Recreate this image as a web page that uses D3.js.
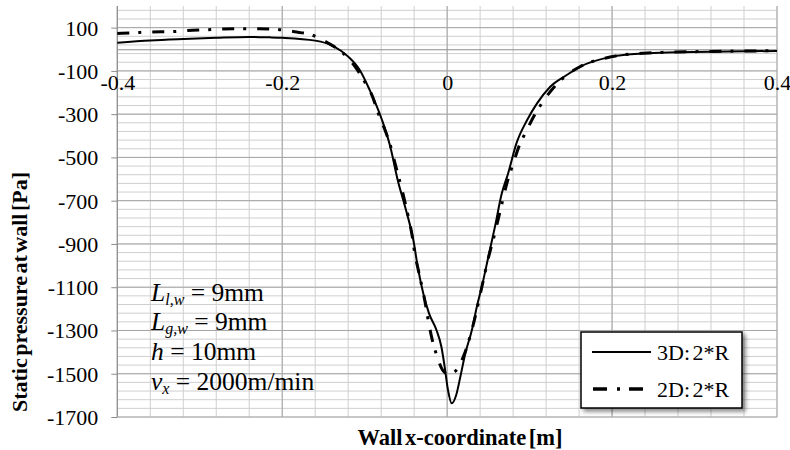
<!DOCTYPE html>
<html>
  <head>
    <meta charset="UTF-8">
    <title>Static pressure at wall</title>
    <script src="https://d3js.org/d3.v7.min.js"></script>
    <style>
      body { margin: 0; background: #fff; }
      text { font-family: "Liberation Serif", "Tinos", "Times New Roman", "DejaVu Serif", serif; fill: #000; }
    </style>
  </head>
  <body>
    <div id="chart-container"></div>
  <script type="text/javascript">

    // Values
    const xTickValues = [-0.4, -0.2, 0, 0.2, 0.4];
    const xTickLabels = ["-0.4", "-0.2", "0", "0.2", "0.4"];
    const yTickValues = [100, -100, -300, -500, -700, -900, -1100, -1300, -1500, -1700];
    const yTickLabels = ["100", "-100", "-300", "-500", "-700", "-900", "-1100", "-1300", "-1500", "-1700"];

    // 3D: 2*R (solid)
    const x3D = [-0.40, -0.36, -0.32, -0.28, -0.24, -0.215, -0.20, -0.16, -0.138, -0.12, -0.106, -0.094,
                 -0.079, -0.069, -0.060, -0.051, -0.041, -0.035, -0.029, -0.022, -0.013, -0.007, -0.003,
                 0.001, 0.0055, 0.011, 0.016, 0.022, 0.030, 0.036, 0.042, 0.050, 0.058, 0.066, 0.074,
                 0.084, 0.097, 0.109, 0.125, 0.145, 0.161, 0.20, 0.238, 0.278, 0.319, 0.40];
    const p3D = [30, 40, 47, 53, 57, 55, 53, 40, 15, -34, -96, -188,
                 -327, -450, -604, -728, -882, -1020, -1128, -1221, -1298, -1375, -1468,
                 -1575, -1637, -1598, -1514, -1406, -1298, -1190, -1098, -959, -820, -670, -573,
                 -435, -327, -250, -173, -119, -81, -34, -19, -14, -11, -8];

    // 2D: 2*R (dash-dot)
    const x2D = [-0.40, -0.378, -0.358, -0.336, -0.314, -0.292, -0.272, -0.249, -0.228, -0.207, -0.185,
                 -0.164, -0.145, -0.127, -0.113, -0.1005, -0.0905, -0.0835, -0.0754, -0.0684, -0.0632,
                 -0.0523, -0.0471, -0.0426, -0.039, -0.035, -0.0268, -0.0228, -0.0187, -0.0127, -0.0056,
                 0.0, 0.006, 0.012, 0.0204, 0.0337, 0.042, 0.050, 0.058, 0.066, 0.073, 0.080, 0.087,
                 0.0956, 0.106, 0.1175, 0.130, 0.145, 0.161, 0.20, 0.238, 0.278, 0.319, 0.40];
    const p2D = [73, 77, 80, 81, 87, 90, 94, 95, 95, 92, 81,
                 66, 30, -16, -73, -147, -219, -296, -373, -450, -527,
                 -688, -774, -859, -950, -1020, -1168, -1256, -1333, -1414, -1483,
                 -1500, -1496, -1480, -1414, -1242, -1100, -965, -848, -720, -612, -530, -450,
                 -381, -304, -235, -173, -119, -81, -34, -18, -13, -10, -7];

    // Annotation rows: symbol, subscript, remainder
    const noteSymbols = ["L", "L", "h", "v"];
    const noteSubs = ["l,w", "g,w", "", "x"];
    const noteRest = [" = 9mm", " = 9mm", " = 10mm", " = 2000m/min"];

    const legendLabels = ["3D: 2*R", "2D: 2*R"];

    const width = 790;
    const height = 450;
    const serif = "Liberation Serif, Tinos, Times New Roman, DejaVu Serif, serif";

    const x = d3.scaleLinear().domain([-0.4, 0.4]).range([117.3, 777]);
    const y = d3.scaleLinear().domain([-1700, 200]).range([417, 6]);

    const svg = d3.select("#chart-container")
        .append("svg")
        .attr("width", width)
        .attr("height", height)
        .attr("viewBox", `0 0 ${width} ${height}`);

    const defs = svg.append("defs");
    defs.append("filter")
        .attr("id", "shadow")
        .attr("x", "-10%").attr("y", "-10%").attr("width", "130%").attr("height", "140%")
      .append("feDropShadow")
        .attr("dx", 3).attr("dy", 3).attr("stdDeviation", 2)
        .attr("flood-color", "#000").attr("flood-opacity", 0.45);

    // Minor gridlines
    const grid = svg.append("g");
    grid.selectAll(".vminor")
        .data(d3.range(-10, 11).map(i => i * 0.04))
        .join("line")
        .attr("x1", d => x(d)).attr("x2", d => x(d))
        .attr("y1", y(200)).attr("y2", y(-1700))
        .attr("stroke", "#cfcfcf").attr("stroke-width", 1);
    grid.selectAll(".hminor")
        .data(d3.range(0, 48).map(i => -1700 + i * 40))
        .join("line")
        .attr("x1", x(-0.4)).attr("x2", x(0.4))
        .attr("y1", d => y(d)).attr("y2", d => y(d))
        .attr("stroke", "#cfcfcf").attr("stroke-width", 1);

    // Major gridlines
    grid.selectAll(".vmajor")
        .data(xTickValues)
        .join("line")
        .attr("x1", d => x(d)).attr("x2", d => x(d))
        .attr("y1", y(200)).attr("y2", y(-1700))
        .attr("stroke", "#a6a6a6").attr("stroke-width", 1);
    grid.selectAll(".hmajor")
        .data(yTickValues)
        .join("line")
        .attr("x1", x(-0.4)).attr("x2", x(0.4))
        .attr("y1", d => y(d)).attr("y2", d => y(d))
        .attr("stroke", "#a6a6a6").attr("stroke-width", 1);

    // Y axis with outside ticks
    const yAxis = g => g
        .attr("transform", `translate(${x(-0.4)},0)`)
        .attr("font-family", serif)
        .call(d3.axisLeft(y).tickValues(yTickValues).tickSize(6).tickFormat((d, i) => yTickLabels[i]))
        .call(g => g.select(".domain").attr("stroke", "#8c8c8c").attr("d", `M0,${y(200)}V${y(-1700)}`))
        .call(g => g.selectAll(".tick line").attr("stroke", "#8c8c8c"))
        .call(g => g.selectAll(".tick text")
            .attr("x", -19)
            .attr("dy", "0.34em")
            .attr("font-size", 22)
            .attr("fill", "#000"));

    // X axis crossing at 0 Pa
    const xAxis = g => g
        .attr("transform", `translate(0,${y(0)})`)
        .attr("font-family", serif)
        .call(d3.axisBottom(x).tickValues(xTickValues).tickSize(0).tickFormat((d, i) => xTickLabels[i]))
        .call(g => g.select(".domain").attr("stroke", "#8c8c8c"))
        .call(g => g.selectAll(".tick text")
            .attr("y", 0)
            .attr("dy", 41)
            .attr("font-size", 22)
            .attr("fill", "#000"));

    svg.append("g").call(yAxis);
    svg.append("g").call(xAxis);

    // Curves
    const line = d3.line()
        .x(d => x(d[0]))
        .y(d => y(d[1]))
        .curve(d3.curveMonotoneX);

    svg.append("path")
        .attr("d", line(d3.zip(x2D, p2D)))
        .attr("fill", "none")
        .attr("stroke", "#000")
        .attr("stroke-width", 3)
        .attr("stroke-dasharray", "12,9,3,11");

    svg.append("path")
        .attr("d", line(d3.zip(x3D, p3D)))
        .attr("fill", "none")
        .attr("stroke", "#000")
        .attr("stroke-width", 2);

    // Axis titles
    svg.append("text")
        .attr("x", 460)
        .attr("y", 445)
        .attr("text-anchor", "middle")
        .attr("font-size", 22.5)
        .attr("font-weight", "bold")
        .attr("word-spacing", -3)
        .text("Wall x-coordinate [m]");

    svg.append("text")
        .attr("transform", "translate(27,292) rotate(-90)")
        .attr("text-anchor", "middle")
        .attr("font-size", 22)
        .attr("font-weight", "bold")
        .attr("word-spacing", -3)
        .text("Static pressure at wall [Pa]");

    // Annotation block: symbol, subscript and remainder as separate texts
    const noteG = svg.append("g");
    noteSymbols.forEach((s, i) => {
        const base = 300.5 + i * 29.8;
        const sym = noteG.append("text")
            .attr("x", 151).attr("y", base)
            .attr("font-size", 25.5).attr("font-style", "italic")
            .text(s);
        let cx = 151 + sym.node().getComputedTextLength();
        if (noteSubs[i]) {
            const sub = noteG.append("text")
                .attr("x", cx).attr("y", base + 4)
                .attr("font-size", 16).attr("font-style", "italic")
                .text(noteSubs[i]);
            cx += sub.node().getComputedTextLength();
        }
        noteG.append("text")
            .attr("x", cx).attr("y", base)
            .attr("font-size", 25.5)
            .attr("xml:space", "preserve")
            .style("white-space", "pre")
            .text(noteRest[i]);
    });

    // Legend
    const legend = svg.append("g");
    legend.append("rect")
        .attr("x", 581).attr("y", 332)
        .attr("width", 161).attr("height", 76)
        .attr("fill", "#fff")
        .attr("stroke", "#000")
        .attr("stroke-width", 1.5)
        .attr("filter", "url(#shadow)");
    legend.append("line")
        .attr("x1", 592).attr("x2", 651).attr("y1", 352).attr("y2", 352)
        .attr("stroke", "#000").attr("stroke-width", 2);
    legend.append("line")
        .attr("x1", 593).attr("x2", 651).attr("y1", 389).attr("y2", 389)
        .attr("stroke", "#000").attr("stroke-width", 3.5)
        .attr("stroke-dasharray", "14,10,3,9");
    legend.selectAll(".label")
        .data(legendLabels)
        .join("text")
        .attr("x", 657)
        .attr("y", (d, i) => 360 + i * 37)
        .attr("font-size", 22)
        .attr("word-spacing", -3)
        .text(d => d);
  </script>
  </body>
</html>
